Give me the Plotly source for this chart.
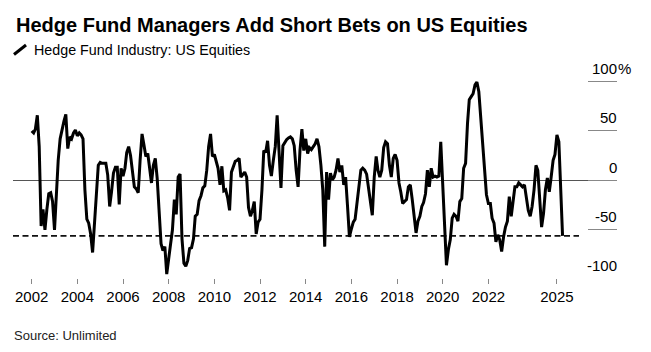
import pandas as pd
import plotly.graph_objects as go

# ---- data (monthly) ----
start_month = "2002-01-01"
values = [
    50, 48, 52, 66, 34, -47, -30, -51, -30, -14, -13, -22,      # 2002
    -51, -14, 20, 42, 52, 60, 67, 32, 44, 42, 48, 51,           # 2003
    45, 48, 46, 42, -10, -40, -44, -55, -74, -44, -8, 15,       # 2004
    18, 17, 17, 17, 5, -27, -12, 7, 13, 13, -25, 12,            # 2005
    4, 12, 28, 34, 25, 7, -7, -9, -13, 20, 47, 36,              # 2006
    24, 27, 10, -3, 15, 22, 2, -30, -65, -72, -68, -96,         # 2007
    -78, -65, -51, -20, -35, 3, 6, -60, -85, -88, -82, -70,     # 2008
    -69, -60, -37, -35, -21, -16, -8, -6, 10, 34, 47, 24,       # 2009
    26, 18, 12, -5, 14, -11, -10, -18, -31, 8, 15, 19,          # 2010
    20, 22, 3, 6, 8, 3, -28, -37, -31, -22, -55, -43,           # 2011
    -40, -10, 30, 28, 40, 15, 4, 20, 34, 66, 25, -8,            # 2012
    35, 39, 41, 43, 44, 42, 35, 10, -7, 30, 52, 30,             # 2013
    42, 27, 33, 31, 34, 37, 42, 34, 15, -10, -68, 8,            # 2014
    -20, 7, 0, 3, 10, 22, 8, 15, -5, 3, -27, -58,               # 2015
    -50, -43, -40, -22, -8, 10, 12, 10, 6, -10, -22, -36,       # 2016
    3, 24, 10, 3, 10, 33, 39, 37, 15, 3, 22, 26,                # 2017
    20, -3, -12, -24, -22, -20, -7, -5, -20, -34, -54, -42,     # 2018
    -37, -27, -23, -14, 10, -7, 12, 3, 4, 3, 4, 39,             # 2019
    -2, -37, -87, -71, -61, -39, -35, -37, -42, -22, -19, 12,   # 2020
    17, 58, 82, 85, 88, 97, 100, 90, 65, 34, 14, -15,           # 2021
    -24, -24, -39, -44, -63, -56, -61, -73, -58, -48, -42, -17, # 2022
    -37, -19, -7, -7, -3, -5, -7, -5, -19, -31, -37, -27,       # 2023
    -10, 15, 10, -24, -48, -34, -10, 2, -12, 3, 20, 26,         # 2024
    46, 39, -3, -57,                                            # 2025
]
dates = pd.date_range(start_month, periods=len(values), freq="MS")

x_tick_vals = ["2002-01-01", "2004-01-01", "2006-01-01", "2008-01-01", "2010-01-01",
               "2012-01-01", "2014-01-01", "2016-01-01", "2018-01-01", "2020-01-01",
               "2022-01-01", "2025-01-01"]
x_tick_text = ["2002", "2004", "2006", "2008", "2010", "2012", "2014", "2016",
               "2018", "2020", "2022", "2025"]
y_tick_vals = [100, 50, 0, -50, -100]
y_tick_text = ["100", "50", "0", "-50", "-100"]

title = "Hedge Fund Managers Add Short Bets on US Equities"
subtitle = "Hedge Fund Industry: US Equities"
source = "Source: Unlimited"

FONT = "Liberation Sans, Arial, sans-serif"
x_range = ["2001-03-08", "2027-08-20"]
dash_end = "2025-12-20"

fig = go.Figure()
fig.add_trace(go.Scatter(
    x=dates, y=values, mode="lines",
    line=dict(color="#000000", width=3), hoverinfo="skip", showlegend=False,
))

# current level dashed reference
fig.add_shape(type="line", xref="x", yref="y",
              x0=x_range[0], x1=dash_end, y0=values[-1], y1=values[-1],
              line=dict(color="#111111", width=1.8, dash="6px,3.5px"), layer="below")

annotations = []
for v, t in zip(y_tick_vals, y_tick_text):
    annotations.append(dict(x=1, xref="paper", y=v, yref="y", text=t, showarrow=False,
                            xanchor="right", yanchor="middle", yshift=13, xshift=2,
                            font=dict(family=FONT, size=15, color="#000000")))
annotations.append(dict(x=1, xref="paper", y=100, yref="y", text="%", showarrow=False,
                        xanchor="left", yanchor="middle", yshift=13, xshift=-1,
                        font=dict(family=FONT, size=15, color="#000000")))

annotations += [
    dict(x=0.0017, xref="paper", y=1.145, yref="paper", text="<b>" + title + "</b>",
         showarrow=False, xanchor="left", yanchor="middle",
         font=dict(family=FONT, size=20, color="#000000")),
    dict(x=0.032, xref="paper", y=1.030, yref="paper", text=subtitle,
         showarrow=False, xanchor="left", yanchor="middle",
         font=dict(family=FONT, size=14.3, color="#000000")),
    dict(x=-0.001, xref="paper", y=-0.258, yref="paper", text=source,
         showarrow=False, xanchor="left", yanchor="middle",
         font=dict(family=FONT, size=13, color="#222222")),
]

# legend pen glyph
fig.add_shape(type="line", xref="paper", yref="paper",
              x0=(14 - 13) / 604, y0=(278 - 54.5) / 221,
              x1=(26 - 13) / 604, y1=(278 - 45) / 221,
              line=dict(color="#000000", width=3))

fig.update_layout(
    width=651, height=352,
    margin=dict(l=13, r=34, t=57, b=74),
    paper_bgcolor="#ffffff", plot_bgcolor="#ffffff",
    showlegend=False,
    annotations=annotations,
    xaxis=dict(type="date", range=x_range, tickvals=x_tick_vals, ticktext=x_tick_text,
               ticks="outside", ticklen=5, tickcolor="#888888", tickwidth=1,
               showgrid=False, zeroline=False, showline=False,
               tickfont=dict(family=FONT, size=15, color="#000000")),
    yaxis=dict(range=[-100, 125.5], side="right", tickvals=y_tick_vals,
               ticks="inside", ticklen=29, tickcolor="#888888", tickwidth=1,
               showticklabels=False, showgrid=False, showline=False,
               zeroline=True, zerolinecolor="#555555", zerolinewidth=1),
)

fig.write_html("out.html")
